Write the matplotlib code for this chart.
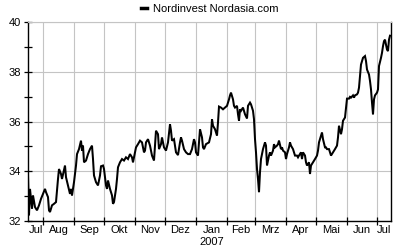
import datetime as dt
import matplotlib
matplotlib.use("Agg")
import matplotlib.pyplot as plt
import matplotlib.dates as mdates
from matplotlib.ticker import MultipleLocator, FixedLocator, NullFormatter

series_name = "Nordinvest Nordasia.com"
start_date = dt.date(2006, 7, 17)
end_date = dt.date(2007, 7, 15)

# trading-day offsets (days after start_date) and prices
days = [0, 1, 2, 4, 5, 7, 9, 11, 13, 15, 17, 18, 20, 21, 22, 24, 26, 28, 30, 31,
        33, 34, 37, 38, 40, 42, 43, 44, 46, 48, 49, 51, 53, 54, 55, 56, 58, 60, 62, 64,
        65, 66, 68, 70, 72, 73, 75, 76, 78, 79, 80, 82, 84, 85, 86, 88, 89, 90, 92, 94,
        96, 98, 100, 102, 104, 105, 106, 108, 110, 112, 114, 116, 117, 118, 120, 122, 124, 126, 127, 128,
        130, 131, 133, 134, 136, 138, 140, 142, 143, 144, 146, 148, 150, 152, 153, 154, 156, 158, 160, 162,
        164, 166, 167, 168, 170, 171, 172, 174, 175, 176, 178, 181, 183, 184, 185, 187, 189, 190, 191, 193,
        195, 197, 199, 201, 202, 203, 205, 206, 207, 209, 210, 211, 212, 213, 215, 216, 217, 219, 220, 222,
        223, 225, 226, 227, 228, 229, 230, 231, 232, 233, 235, 236, 237, 238, 239, 241, 242, 243, 245, 246,
        247, 249, 250, 251, 253, 254, 255, 257, 258, 259, 261, 262, 263, 265, 266, 267, 269, 270, 271, 273,
        274, 275, 277, 278, 279, 281, 282, 283, 285, 286, 287, 289, 290, 291, 293, 294, 295, 297, 298, 299,
        301, 302, 303, 305, 306, 307, 309, 310, 311, 313, 314, 315, 317, 318, 319, 321, 322, 323, 325, 326,
        327, 329, 330, 331, 333, 334, 335, 337, 338, 339, 341, 342, 343, 344, 345, 346, 347, 349, 350, 351,
        353, 354, 355, 356, 357, 359, 360, 361, 362]
prices = [33.83, 32.23, 33.29, 32.49, 33.03, 32.56, 32.43, 32.63, 32.89, 33.09, 33.29, 33.16, 32.96, 32.43, 32.36, 32.63, 32.69, 32.76, 33.69, 34.09,
          33.89, 33.69, 34.23, 33.76, 33.43, 33.09, 33.29, 33.03, 33.56, 34.23, 34.69, 34.89, 35.23, 34.83, 35.03, 34.36, 34.43, 34.69, 34.89, 35.03,
          34.49, 33.83, 33.56, 33.43, 33.83, 34.20, 34.23, 34.09, 33.43, 33.29, 33.63, 33.29, 33.03, 32.69, 32.76, 33.29, 33.69, 34.16, 34.36, 34.49,
          34.43, 34.56, 34.49, 34.69, 34.56, 34.36, 34.56, 34.96, 35.09, 35.23, 35.16, 34.76, 34.83, 35.16, 35.29, 35.03, 34.63, 34.43, 35.03, 35.63,
          35.49, 34.89, 35.09, 35.36, 34.96, 34.83, 35.16, 35.89, 35.63, 35.23, 35.29, 34.76, 34.65, 35.16, 35.36, 35.23, 34.89, 34.76, 34.69, 34.69,
          34.89, 35.29, 35.16, 34.76, 34.63, 35.16, 35.69, 35.36, 34.96, 34.89, 35.09, 35.16, 35.49, 36.09, 35.83, 35.69, 35.43, 35.96, 36.60, 36.56,
          36.49, 36.56, 36.63, 36.89, 37.05, 37.16, 36.89, 36.63, 36.56, 36.63, 36.29, 36.03, 36.49, 36.43, 36.56, 36.43, 36.29, 36.12, 36.63, 36.76,
          36.69, 36.43, 36.09, 35.29, 34.76, 34.09, 33.69, 33.16, 33.96, 34.49, 34.89, 35.03, 35.16, 35.03, 34.23, 34.63, 34.76, 34.63, 34.83, 35.09,
          34.96, 35.03, 35.09, 35.23, 34.89, 34.96, 34.83, 34.76, 34.49, 34.69, 34.96, 35.16, 35.03, 34.89, 34.76, 34.63, 34.63, 34.56, 34.63, 34.76,
          34.49, 34.76, 34.63, 34.36, 34.23, 34.36, 33.89, 34.23, 34.36, 34.43, 34.49, 34.63, 34.83, 35.16, 35.43, 35.56, 35.29, 34.96, 34.96, 34.89,
          34.89, 34.76, 34.63, 34.76, 34.83, 34.89, 35.03, 35.36, 35.83, 35.49, 35.69, 36.03, 36.16, 36.56, 36.92, 36.92, 36.99, 36.96, 37.05, 36.96,
          37.05, 37.09, 37.16, 37.36, 38.29, 38.43, 38.56, 38.63, 38.43, 38.09, 37.89, 37.63, 37.29, 36.76, 36.29, 36.89, 37.05, 37.16, 37.29, 38.23,
          38.56, 38.76, 39.03, 39.23, 39.29, 38.89, 38.83, 39.29, 39.45]

month_starts = ["2006-08-01", "2006-09-01", "2006-10-01", "2006-11-01", "2006-12-01",
                "2007-01-01", "2007-02-01", "2007-03-01", "2007-04-01", "2007-05-01",
                "2007-06-01", "2007-07-01"]
month_labels = ["Jul", "Aug", "Sep", "Okt", "Nov", "Dez", "Jan", "Feb", "Mrz",
                "Apr", "Mai", "Jun", "Jul"]
year_label = "2007"
y_ticks = [32, 34, 36, 38, 40]

dates = [start_date + dt.timedelta(days=int(d)) for d in days]
n = min(len(dates), len(prices))
dates, prices = dates[:n], prices[:n]

plt.rcParams['font.family'] = ['Liberation Sans', 'DejaVu Sans']
fig = plt.figure(figsize=(4.11, 2.52), dpi=100)
ax = fig.add_axes([28 / 411, 1 - 221 / 252, 363 / 411, 199 / 252])

ax.plot(dates, prices, color="black", lw=1.45, solid_joinstyle="miter",
        label=series_name)

x0 = mdates.date2num(start_date)
x1 = mdates.date2num(end_date)
ax.set_xlim(x0, x1)
ax.set_ylim(32, 40)

# month boundary ticks + grid
ms = [mdates.date2num(dt.date.fromisoformat(s)) for s in month_starts]
ax.xaxis.set_major_locator(FixedLocator(ms))
ax.xaxis.set_major_formatter(NullFormatter())
bounds = [x0] + ms + [x1]
centers = [(a + b) / 2 for a, b in zip(bounds[:-1], bounds[1:])]
ax.xaxis.set_minor_locator(FixedLocator(centers))
ax.set_xticklabels(month_labels, minor=True)
ax.tick_params(axis="x", which="major", direction="inout", length=6, width=0.9, color="black")
ax.tick_params(axis="x", which="minor", length=0, pad=3, labelsize=8)

ax.set_yticks(y_ticks)
ax.yaxis.set_minor_locator(MultipleLocator(1))
ax.tick_params(axis="y", which="major", direction="inout", length=6, width=0.9, labelsize=8, pad=2)
ax.tick_params(axis="y", which="minor", direction="inout", length=6, width=0.9)

ax.grid(True, which="major", color="#c4c4c4", lw=0.8)
ax.set_axisbelow(True)
for s in ["left", "bottom", "right"]:
    ax.spines[s].set_color("black")
    ax.spines[s].set_linewidth(1.0)
ax.spines["top"].set_color("#c4c4c4")
ax.spines["top"].set_linewidth(0.8)

jan_center = centers[6]
ax.text(jan_center, -0.08, year_label, transform=ax.get_xaxis_transform(),
        ha="center", va="top", fontsize=8)

leg = ax.legend(loc="lower center", bbox_to_anchor=(0.5, 1.02), frameon=False,
                handlelength=0.6, handletextpad=0.5, fontsize=8, borderaxespad=0)
for h in leg.get_lines():
    h.set_linewidth(2.5)

fig.savefig("out.png", dpi=100)
